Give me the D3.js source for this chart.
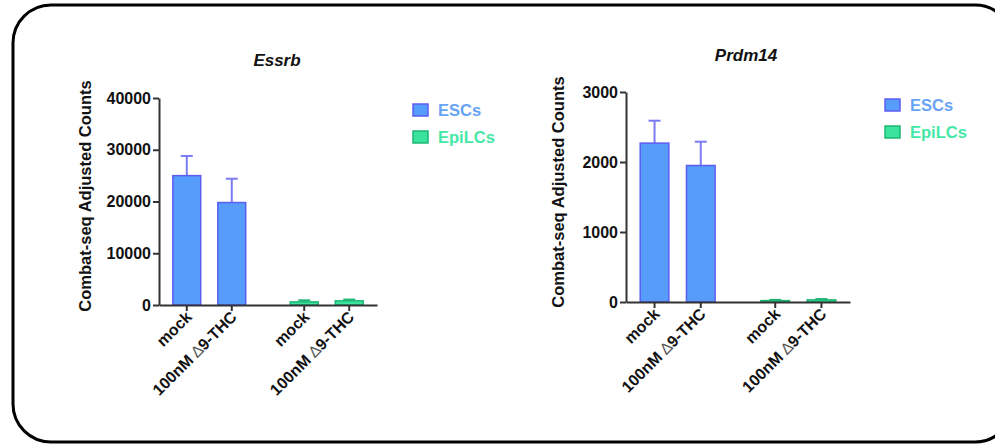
<!doctype html>
<html>
<head>
  <meta charset="utf8"/>
  <style>
    body { margin: 0; background: #fff; }
    text { font-family: 'Liberation Sans', Arial, sans-serif; font-weight: bold; }
  </style>
</head>
<body>
  <svg width="995" height="445"></svg>
  <script src="https://d3js.org/d3.v7.min.js"></script>
  <script>
    var groups = ['ESCs', 'EpiLCs'];
    var treatments = ['mock', '100nM \u22069-THC'];

    var essrbMeans = [[25000, 19800], [600, 800]];
    var essrbErrs = [[3800, 4600], [300, 250]];
    var essrbTicks = [0, 10000, 20000, 30000, 40000];

    var prdmMeans = [[2270, 1950], [20, 30]];
    var prdmErrs = [[320, 340], [10, 12]];
    var prdmTicks = [0, 1000, 2000, 3000];

    var fills = {ESCs: '#559cfb', EpiLCs: '#3be39f'};
    var strokes = {ESCs: '#5d5df2', EpiLCs: '#1db673'};
    var errColor = {ESCs: '#7b7bf3', EpiLCs: '#1db673'};
    var legendText = {ESCs: '#67a3f6', EpiLCs: '#45e8a6'};

    var svg = d3.select('svg');

    // rounded frame
    svg.append('rect')
       .attr('x', 13).attr('y', 5)
       .attr('width', 1000).attr('height', 437)
       .attr('rx', 38).attr('ry', 38)
       .attr('fill', 'none')
       .attr('stroke', '#000')
       .attr('stroke-width', 3);

    function panel(opt) {
      var g = svg.append('g');

      var y = d3.scaleLinear().domain(opt.domain).range([opt.y0, opt.y1]);
      var x0 = d3.scaleBand().domain(groups)
                 .range([opt.x0, opt.x1])
                 .paddingInner(0.234).paddingOuter(0.045);
      var x1 = d3.scaleBand().domain(treatments)
                 .range([0, x0.bandwidth()])
                 .paddingInner(0.38).paddingOuter(0.19);

      var rows = [];
      groups.forEach(function(gr, i) {
        treatments.forEach(function(t, j) {
          rows.push({group: gr, t: t, v: opt.means[i][j], e: opt.errs[i][j]});
        });
      });

      // error bars (upper only)
      rows.forEach(function(d) {
        var cx = x0(d.group) + x1(d.t) + x1.bandwidth() / 2;
        g.append('line')
         .attr('x1', cx).attr('x2', cx)
         .attr('y1', y(d.v)).attr('y2', y(d.v + d.e))
         .attr('stroke', errColor[d.group]).attr('stroke-width', 2);
        g.append('line')
         .attr('x1', cx - 6).attr('x2', cx + 6)
         .attr('y1', y(d.v + d.e)).attr('y2', y(d.v + d.e))
         .attr('stroke', errColor[d.group]).attr('stroke-width', 2);
      });

      g.selectAll('rect.bar')
       .data(rows)
       .enter().append('rect')
         .attr('class', 'bar')
         .attr('x', function(d) { return x0(d.group) + x1(d.t); })
         .attr('width', x1.bandwidth())
         .attr('y', function(d) { return y(d.v); })
         .attr('height', function(d) { return y(0) - y(d.v); })
         .attr('fill', function(d) { return fills[d.group]; })
         .attr('stroke', function(d) { return strokes[d.group]; })
         .attr('stroke-width', 1.5);

      // y axis
      var ya = g.append('g')
        .attr('transform', 'translate(' + opt.x0 + ',0)')
        .call(d3.axisLeft(y).tickValues(opt.ticks).tickFormat(d3.format('d'))
                .tickSize(6).tickSizeOuter(0));
      ya.select('.domain').attr('stroke', '#333').attr('stroke-width', 2);
      ya.selectAll('.tick line').attr('stroke', '#333').attr('stroke-width', 2);
      ya.selectAll('.tick text').attr('font-size', 16).attr('fill', '#111').attr('x', -8);

      // x axis
      var xa = g.append('g')
        .attr('transform', 'translate(0,' + opt.y0 + ')')
        .call(d3.axisBottom(d3.scaleLinear().domain([opt.x0, opt.x1]).range([opt.x0, opt.x1]))
              .tickValues([]).tickSizeOuter(0));
      xa.select('.domain').attr('stroke', '#333').attr('stroke-width', 2);

      rows.forEach(function(d) {
        var cx = x0(d.group) + x1(d.t) + x1.bandwidth() / 2;
        xa.append('line')
          .attr('x1', cx).attr('x2', cx).attr('y1', 0).attr('y2', 6)
          .attr('stroke', '#333').attr('stroke-width', 2);
        var t = xa.append('text')
          .attr('transform', 'translate(' + (cx + 6) + ',13) rotate(-45)')
          .attr('text-anchor', 'end')
          .attr('font-size', 16)
          .attr('fill', '#111');
        var parts = d.t.split('\u2206');
        t.append('tspan').text(parts[0]);
        if (parts.length > 1) {
          t.append('tspan').attr('font-weight', 'normal').attr('fill', '#555').text('\u2206');
          t.append('tspan').text(parts[1]);
        }
      });

      // title
      g.append('text')
       .attr('x', opt.titleX).attr('y', opt.titleY)
       .attr('text-anchor', 'middle')
       .attr('font-size', 17)
       .attr('font-style', 'italic')
       .attr('fill', '#111')
       .text(opt.title);

      // y label
      g.append('text')
       .attr('transform', 'translate(' + opt.labelX + ',' + opt.labelY + ') rotate(-90)')
       .attr('text-anchor', 'middle')
       .attr('font-size', 16.5)
       .attr('fill', '#111')
       .text('Combat-seq Adjusted Counts');

      // legend
      groups.forEach(function(gr, i) {
        var ly = opt.legY + i * 27;
        g.append('rect')
         .attr('x', opt.legX).attr('y', ly - 6)
         .attr('width', 15).attr('height', 12)
         .attr('fill', fills[gr]).attr('stroke', strokes[gr]).attr('stroke-width', 1.5);
        g.append('text')
         .attr('x', opt.legX + 25).attr('y', ly + 6)
         .attr('font-size', 16.5)
         .attr('fill', legendText[gr])
         .text(gr);
      });
    }

    panel({
      title: 'Essrb', titleX: 277, titleY: 66,
      means: essrbMeans, errs: essrbErrs, ticks: essrbTicks,
      domain: [0, 40000], x0: 159, x1: 377, y0: 305, y1: 98,
      labelX: 91, labelY: 196, legX: 413, legY: 110
    });

    panel({
      title: 'Prdm14', titleX: 746, titleY: 61,
      means: prdmMeans, errs: prdmErrs, ticks: prdmTicks,
      domain: [0, 3000], x0: 626, x1: 850, y0: 302, y1: 92,
      labelX: 564, labelY: 192, legX: 885, legY: 105
    });
  </script>
</body>
</html>
